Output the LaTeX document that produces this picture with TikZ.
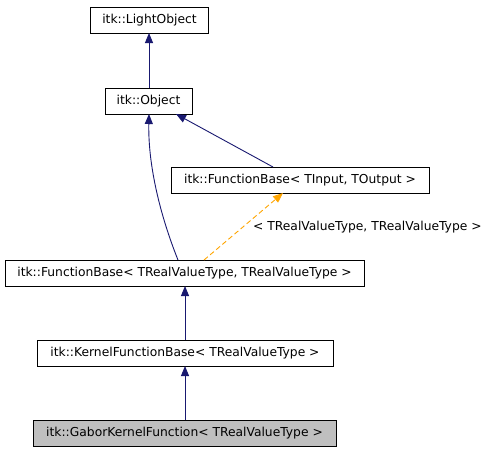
\documentclass[tikz,border=0pt]{standalone}
\usepackage{fontspec}
\setmainfont{DejaVu Sans}
\usetikzlibrary{arrows.meta}
\definecolor{edgeblue}{HTML}{191970}
\definecolor{edgeorange}{HTML}{FFA500}
\definecolor{graybox}{HTML}{BFBFBF}
\tikzset{
  cls/.style={draw=black, line width=0.9pt, fill=white, rectangle, anchor=center, inner sep=0pt, font=\fontsize{12.3}{14}\selectfont},
  inh/.style={draw=edgeblue, line width=0.9pt, -{Triangle[length=10pt,width=8pt]}},
  tmpl/.style={draw=edgeorange, line width=0.9pt, dashed, dash pattern=on 5pt off 3pt, -{Triangle[length=10pt,width=8pt]}},
  lbl/.style={font=\fontsize{12.3}{14}\selectfont, anchor=west, inner sep=0pt}
}
\begin{document}
\begin{tikzpicture}[x=1pt,y=-1pt]
\useasboundingbox (0,0) rectangle (489,453);
\node[cls, minimum width=118pt, minimum height=26pt] (light) at (149.5,20) {itk::LightObject};
\node[cls, minimum width=87pt, minimum height=26pt] (obj) at (148.5,101) {itk::Object};
\node[cls, minimum width=258pt, minimum height=26pt] (fbio) at (300,180) {itk::FunctionBase< TInput, TOutput >};
\node[cls, minimum width=359pt, minimum height=26pt] (fbrr) at (184.5,273) {itk::FunctionBase< TRealValueType, TRealValueType >};
\node[cls, minimum width=296pt, minimum height=26pt] (kfb) at (185,353) {itk::KernelFunctionBase< TRealValueType >};
\node[cls, fill=graybox, minimum width=303pt, minimum height=26pt] (gabor) at (184.5,433) {itk::GaborKernelFunction< TRealValueType >};
\coordinate (objtop) at (149,88);
\coordinate (lightbot) at (149,33);
\draw[inh] (objtop) -- (lightbot);
\coordinate (fbrrA) at (178,260);
\coordinate (objB) at (149,114);
\draw[inh] (fbrrA) .. controls (160,215) and (148,165) .. (objB);
\coordinate (fbioA) at (273,167);
\coordinate (objC) at (176,114);
\draw[inh] (fbioA) -- (objC);
\coordinate (fbrrB) at (204,260);
\coordinate (fbioB) at (283,193);
\draw[tmpl] (fbrrB) -- (fbioB);
\node[lbl] (tlabel) at (253,227) {< TRealValueType, TRealValueType >};
\coordinate (kfbtop) at (185,340);
\coordinate (fbrrbot) at (185,286);
\draw[inh] (kfbtop) -- (fbrrbot);
\coordinate (gabtop) at (185,420);
\coordinate (kfbbot) at (185,366);
\draw[inh] (gabtop) -- (kfbbot);
\end{tikzpicture}
\end{document}
